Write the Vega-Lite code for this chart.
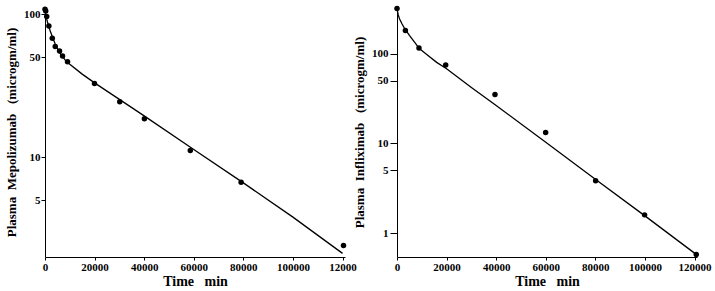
{
  "$schema": "https://vega.github.io/schema/vega-lite/v6.json",
  "padding": {"left": 5, "top": 5, "right": 5, "bottom": 2},
  "background": "white",
  "config": {
    "view": {"stroke": null},
    "font": "Liberation Serif",
    "axis": {
      "grid": false,
      "domainColor": "black",
      "tickColor": "black",
      "labelColor": "black",
      "titleColor": "black",
      "labelFont": "Liberation Serif",
      "titleFont": "Liberation Serif",
      "labelFontWeight": "bold",
      "titleFontWeight": "bold",
      "labelFontSize": 11,
      "titleFontSize": 13
    }
  },
  "datasets": {
    "mep_pts": [
      {"t": 0, "c": 108}, {"t": 300, "c": 105}, {"t": 700, "c": 96},
      {"t": 1570, "c": 82.5}, {"t": 2940, "c": 67.6}, {"t": 4140, "c": 59.4},
      {"t": 5870, "c": 55.2}, {"t": 7080, "c": 50.9}, {"t": 9090, "c": 46.3},
      {"t": 19960, "c": 32.7}, {"t": 30150, "c": 24.4}, {"t": 40080, "c": 18.5},
      {"t": 58600, "c": 11.1}, {"t": 79100, "c": 6.67}, {"t": 120400, "c": 2.41}
    ],
    "mep_fit": [
      {"t": 0, "c": 106}, {"t": 300, "c": 99}, {"t": 700, "c": 92}, {"t": 1000, "c": 88}, {"t": 2000, "c": 77},
      {"t": 3000, "c": 69}, {"t": 4000, "c": 62.5}, {"t": 5000, "c": 57.5}, {"t": 6000, "c": 53.5},
      {"t": 8000, "c": 48}, {"t": 10000, "c": 44.5}, {"t": 15000, "c": 38}, {"t": 20000, "c": 33},
      {"t": 30000, "c": 25.3}, {"t": 40000, "c": 19.4}, {"t": 60000, "c": 11.3},
      {"t": 80000, "c": 6.6}, {"t": 100000, "c": 3.8}, {"t": 120000, "c": 2.12}
    ],
    "inf_pts": [
      {"t": 0, "c": 318}, {"t": 3390, "c": 181}, {"t": 8870, "c": 115.5},
      {"t": 19640, "c": 74.6}, {"t": 39520, "c": 35.1}, {"t": 59960, "c": 13.2},
      {"t": 80120, "c": 3.83}, {"t": 99860, "c": 1.6}, {"t": 120700, "c": 0.58}
    ],
    "inf_fit": [
      {"t": 0, "c": 318}, {"t": 500, "c": 270}, {"t": 1000, "c": 245}, {"t": 2000, "c": 215},
      {"t": 3000, "c": 192}, {"t": 5000, "c": 160}, {"t": 7000, "c": 135}, {"t": 9000, "c": 114},
      {"t": 12000, "c": 98}, {"t": 16000, "c": 80}, {"t": 20000, "c": 68}, {"t": 30000, "c": 42},
      {"t": 40000, "c": 26.5}, {"t": 60000, "c": 10.3}, {"t": 80000, "c": 4.0},
      {"t": 100000, "c": 1.56}, {"t": 120000, "c": 0.6}
    ]
  },
  "hconcat": [
    {
      "width": 300,
      "height": 250,
      "layer": [
        {
          "data": {"name": "mep_fit"},
          "mark": {"type": "line", "color": "black", "strokeWidth": 1.3, "clip": true},
          "encoding": {
            "x": {"field": "t", "type": "quantitative"},
            "y": {"field": "c", "type": "quantitative"}
          }
        },
        {
          "data": {"name": "mep_pts"},
          "mark": {"type": "circle", "color": "black", "opacity": 1, "size": 30},
          "encoding": {
            "x": {
              "field": "t", "type": "quantitative",
              "scale": {"domain": [0, 121000], "nice": false, "zero": false},
              "axis": {
                "title": "Time\u00a0\u00a0\u00a0min", "titleFontSize": 14,
                "values": [0, 10000, 20000, 30000, 40000, 50000, 60000, 70000, 80000, 90000, 100000, 110000, 120000],
                "format": "d",
                "labelExpr": "datum.value == 120000 ? '12000' : (datum.value % 20000 == 0 ? datum.label : '')",
                "tickSize": 3, "labelPadding": 1, "titlePadding": 2, "labelFlush": false, "labelOverlap": false
              }
            },
            "y": {
              "field": "c", "type": "quantitative",
              "scale": {"type": "log", "domain": [2.0, 112], "nice": false},
              "axis": {
                "title": "Plasma\u00a0\u00a0Mepolizumab\u00a0\u00a0\u00a0(microgm/ml)",
                "values": [5, 10, 50, 100], "format": "d",
                "tickSize": 4, "labelPadding": 1, "titlePadding": 5
              }
            }
          }
        }
      ]
    },
    {
      "width": 300,
      "height": 250,
      "layer": [
        {
          "data": {"name": "inf_fit"},
          "mark": {"type": "line", "color": "black", "strokeWidth": 1.3, "clip": true},
          "encoding": {
            "x": {"field": "t", "type": "quantitative"},
            "y": {"field": "c", "type": "quantitative"}
          }
        },
        {
          "data": {"name": "inf_pts"},
          "mark": {"type": "circle", "color": "black", "opacity": 1, "size": 30},
          "encoding": {
            "x": {
              "field": "t", "type": "quantitative",
              "scale": {"domain": [0, 121000], "nice": false, "zero": false},
              "axis": {
                "title": "Time\u00a0\u00a0\u00a0min", "titleFontSize": 14,
                "values": [0, 10000, 20000, 30000, 40000, 50000, 60000, 70000, 80000, 90000, 100000, 110000, 120000],
                "format": "d",
                "labelExpr": "datum.value % 20000 == 0 ? datum.label : ''",
                "tickSize": 3, "labelPadding": 1, "titlePadding": 2, "labelFlush": false, "labelOverlap": false
              }
            },
            "y": {
              "field": "c", "type": "quantitative",
              "scale": {"type": "log", "domain": [0.543, 331], "nice": false},
              "axis": {
                "title": "Plasma\u00a0\u00a0Infliximab\u00a0\u00a0\u00a0(microgm/ml)",
                "values": [1, 5, 10, 50, 100], "format": "d",
                "tickSize": 7, "labelPadding": 2, "titlePadding": 5
              }
            }
          }
        }
      ]
    }
  ],
  "spacing": 52,
  "bounds": "flush"
}
